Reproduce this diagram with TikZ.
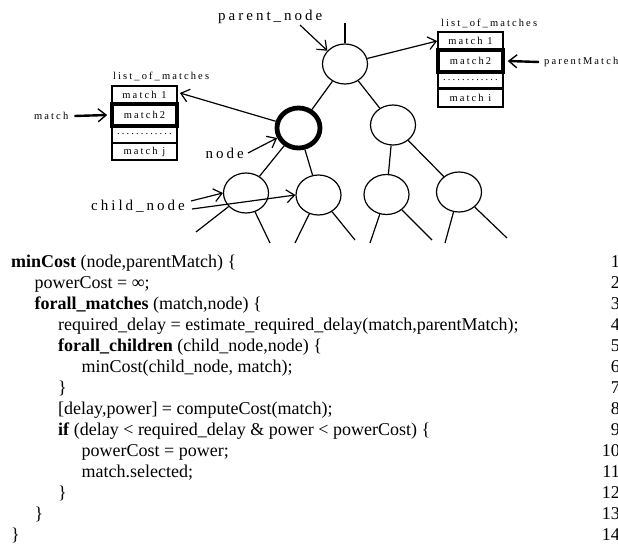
\documentclass[tikz,border=0pt]{standalone}
\usepackage{fontspec}
\setmainfont{Liberation Serif}
\newfontfamily\lblfont[LetterSpace=20]{Liberation Serif}
\usetikzlibrary{arrows.meta,shapes.geometric}

\tikzset{
  tnode/.style={draw, ellipse, line width=1.2pt, minimum width=45pt, minimum height=40pt, inner sep=0pt},
  selnode/.style={tnode, line width=4.8pt, minimum width=43pt, minimum height=40pt},
  edge/.style={line width=1.2pt},
  ptr/.style={line width=1.2pt, -{Straight Barb[length=8pt,width=13pt,line width=1.2pt]}},
  bigptr/.style={line width=2.4pt, -{Straight Barb[length=8pt,width=13pt,line width=1.4pt]}},
  row/.style={draw, line width=1.8pt, minimum width=65pt, inner sep=0pt, font=\lblfont\fontsize{10.5}{12}\selectfont},
  selrow/.style={row, line width=3.6pt},
  small/.style={inner sep=0pt, font=\lblfont\fontsize{10.5}{12}\selectfont},
  big/.style={inner sep=0pt, font=\lblfont\fontsize{15}{17}\selectfont},
  code/.style={anchor=base west, inner sep=0pt, font=\fontsize{18}{21}\selectfont},
  lnum/.style={anchor=base east, inner sep=0pt, font=\fontsize{18}{21}\selectfont}
}

\begin{document}
\begin{tikzpicture}[x=1pt,y=-1pt]
\useasboundingbox (0,0) rectangle (618,544);
\fill[white] (0,0) rectangle (618,544);
\clip (0,0) rectangle (618,544);

% tree
\node[tnode]   (root) at (345,64)    {};
\node[selnode] (cur)  at (298.5,128) {};
\node[tnode]   (rc)   at (393,125)   {};
\node[tnode]   (c1)   at (246,193)   {};
\node[tnode]   (c2)   at (318.5,195) {};
\node[tnode]   (c3)   at (386.5,194.5) {};
\node[tnode]   (c4)   at (459,192)   {};

\coordinate (top) at (345,23);
\draw[line width=2pt] (root) -- (top);
\draw[edge] (root) -- (cur);
\draw[edge] (root) -- (rc);
\draw[edge] (cur) -- (c1);
\draw[edge] (cur) -- (c2);
\draw[edge] (rc) -- (c3);
\draw[edge] (rc) -- (c4);

% dangling subtrees
\coordinate (l1a) at (196,232); \coordinate (l1b) at (270,243);
\coordinate (l2a) at (295,243); \coordinate (l2b) at (355,240);
\coordinate (l3a) at (370,243); \coordinate (l3b) at (432,240);
\coordinate (l4a) at (445,243); \coordinate (l4b) at (507,238);
\foreach \c/\a/\b in {c1/l1a/l1b, c2/l2a/l2b, c3/l3a/l3b, c4/l4a/l4b} {
  \draw[edge] (\c) -- (\a);
  \draw[edge] (\c) -- (\b);
}

% left list of matches
\node[small, anchor=west] (ltitle) at (113,76) {list\_of\_matches};
\node[row, minimum height=18pt] (L1) at (144.5,95)    {match 1};
\node[row, minimum height=17pt] (L3) at (144.5,134.5) {............};
\node[row, minimum height=17pt] (L4) at (144.5,151.5) {match j};
\node[selrow, minimum height=22pt] (L2) at (144.5,115) {match2};

% right list of matches
\node[small, anchor=west] (rtitle) at (441,23) {list\_of\_matches};
\node[row, minimum height=18pt] (R1) at (470.5,41)   {match 1};
\node[row, minimum height=17pt] (R3) at (470.5,80.5) {............};
\node[row, minimum height=18pt] (R4) at (470.5,98)   {match i};
\node[selrow, minimum height=22pt] (R2) at (470.5,61) {match2};
\draw[line width=2.6pt] (R4.north west) -- (R4.north east);

% labels and pointers
\node[big, anchor=west] (pn) at (218,17) {parent\_node};
\coordinate (pnt) at (300,25);
\draw[ptr] (pnt) -- (root.143);

\node[big, anchor=east] (nd) at (244,153) {node};
\draw[ptr] (nd.east) ++(4,0) coordinate (ndt) (ndt) -- (cur.205);

\node[big, anchor=west] (cn) at (91,206) {child\_node};
\coordinate (cnt1) at (191,201);
\coordinate (cnt2) at (192,209);
\draw[ptr] (cnt1) -- (c1.west);
\draw[ptr] (cnt2) -- (c2.west);

\node[small, anchor=west] (ml) at (34,116) {match};
\draw[bigptr] (ml.east) ++(6,0) coordinate (mlt) (mlt) -- ([xshift=-3pt]L2.west);

\node[small, anchor=west] (pm) at (544,62) {parentMatch};
\draw[bigptr] (pm.west) ++(-5,0) coordinate (pmt) (pmt) -- ([xshift=3pt]R2.east);

\draw[ptr] (cur) -- ([xshift=2pt,yshift=2pt]L1.east);
\draw[ptr] (root) -- (R1.west);

% pseudo code
\node[code] (k1)  at (11,267)   {\textbf{minCost} (node,parentMatch) \{};
\node[code] (k2)  at (34.5,288) {powerCost = ∞;};
\node[code] (k3)  at (34.5,309) {\textbf{forall\_matches} (match,node) \{};
\node[code] (k4)  at (58,330)   {required\_delay = estimate\_required\_delay(match,parentMatch);};
\node[code] (k5)  at (58,351)   {\textbf{forall\_children} (child\_node,node) \{};
\node[code] (k6)  at (81.5,372) {minCost(child\_node, match);};
\node[code] (k7)  at (58,393)   {\}};
\node[code] (k8)  at (58,414)   {[delay,power] = computeCost(match);};
\node[code] (k9)  at (58,435)   {\textbf{if} (delay < required\_delay \& power < powerCost) \{};
\node[code] (k10) at (81.5,456) {powerCost = power;};
\node[code] (k11) at (81.5,477) {match.selected;};
\node[code] (k12) at (58,498)   {\}};
\node[code] (k13) at (34.5,519) {\}};
\node[code] (k14) at (11,540)   {\}};

\foreach \i in {1,...,14} {
  \node[lnum] (n\i) at (620,{267+21*(\i-1)}) {\i};
}
\end{tikzpicture}
\end{document}
